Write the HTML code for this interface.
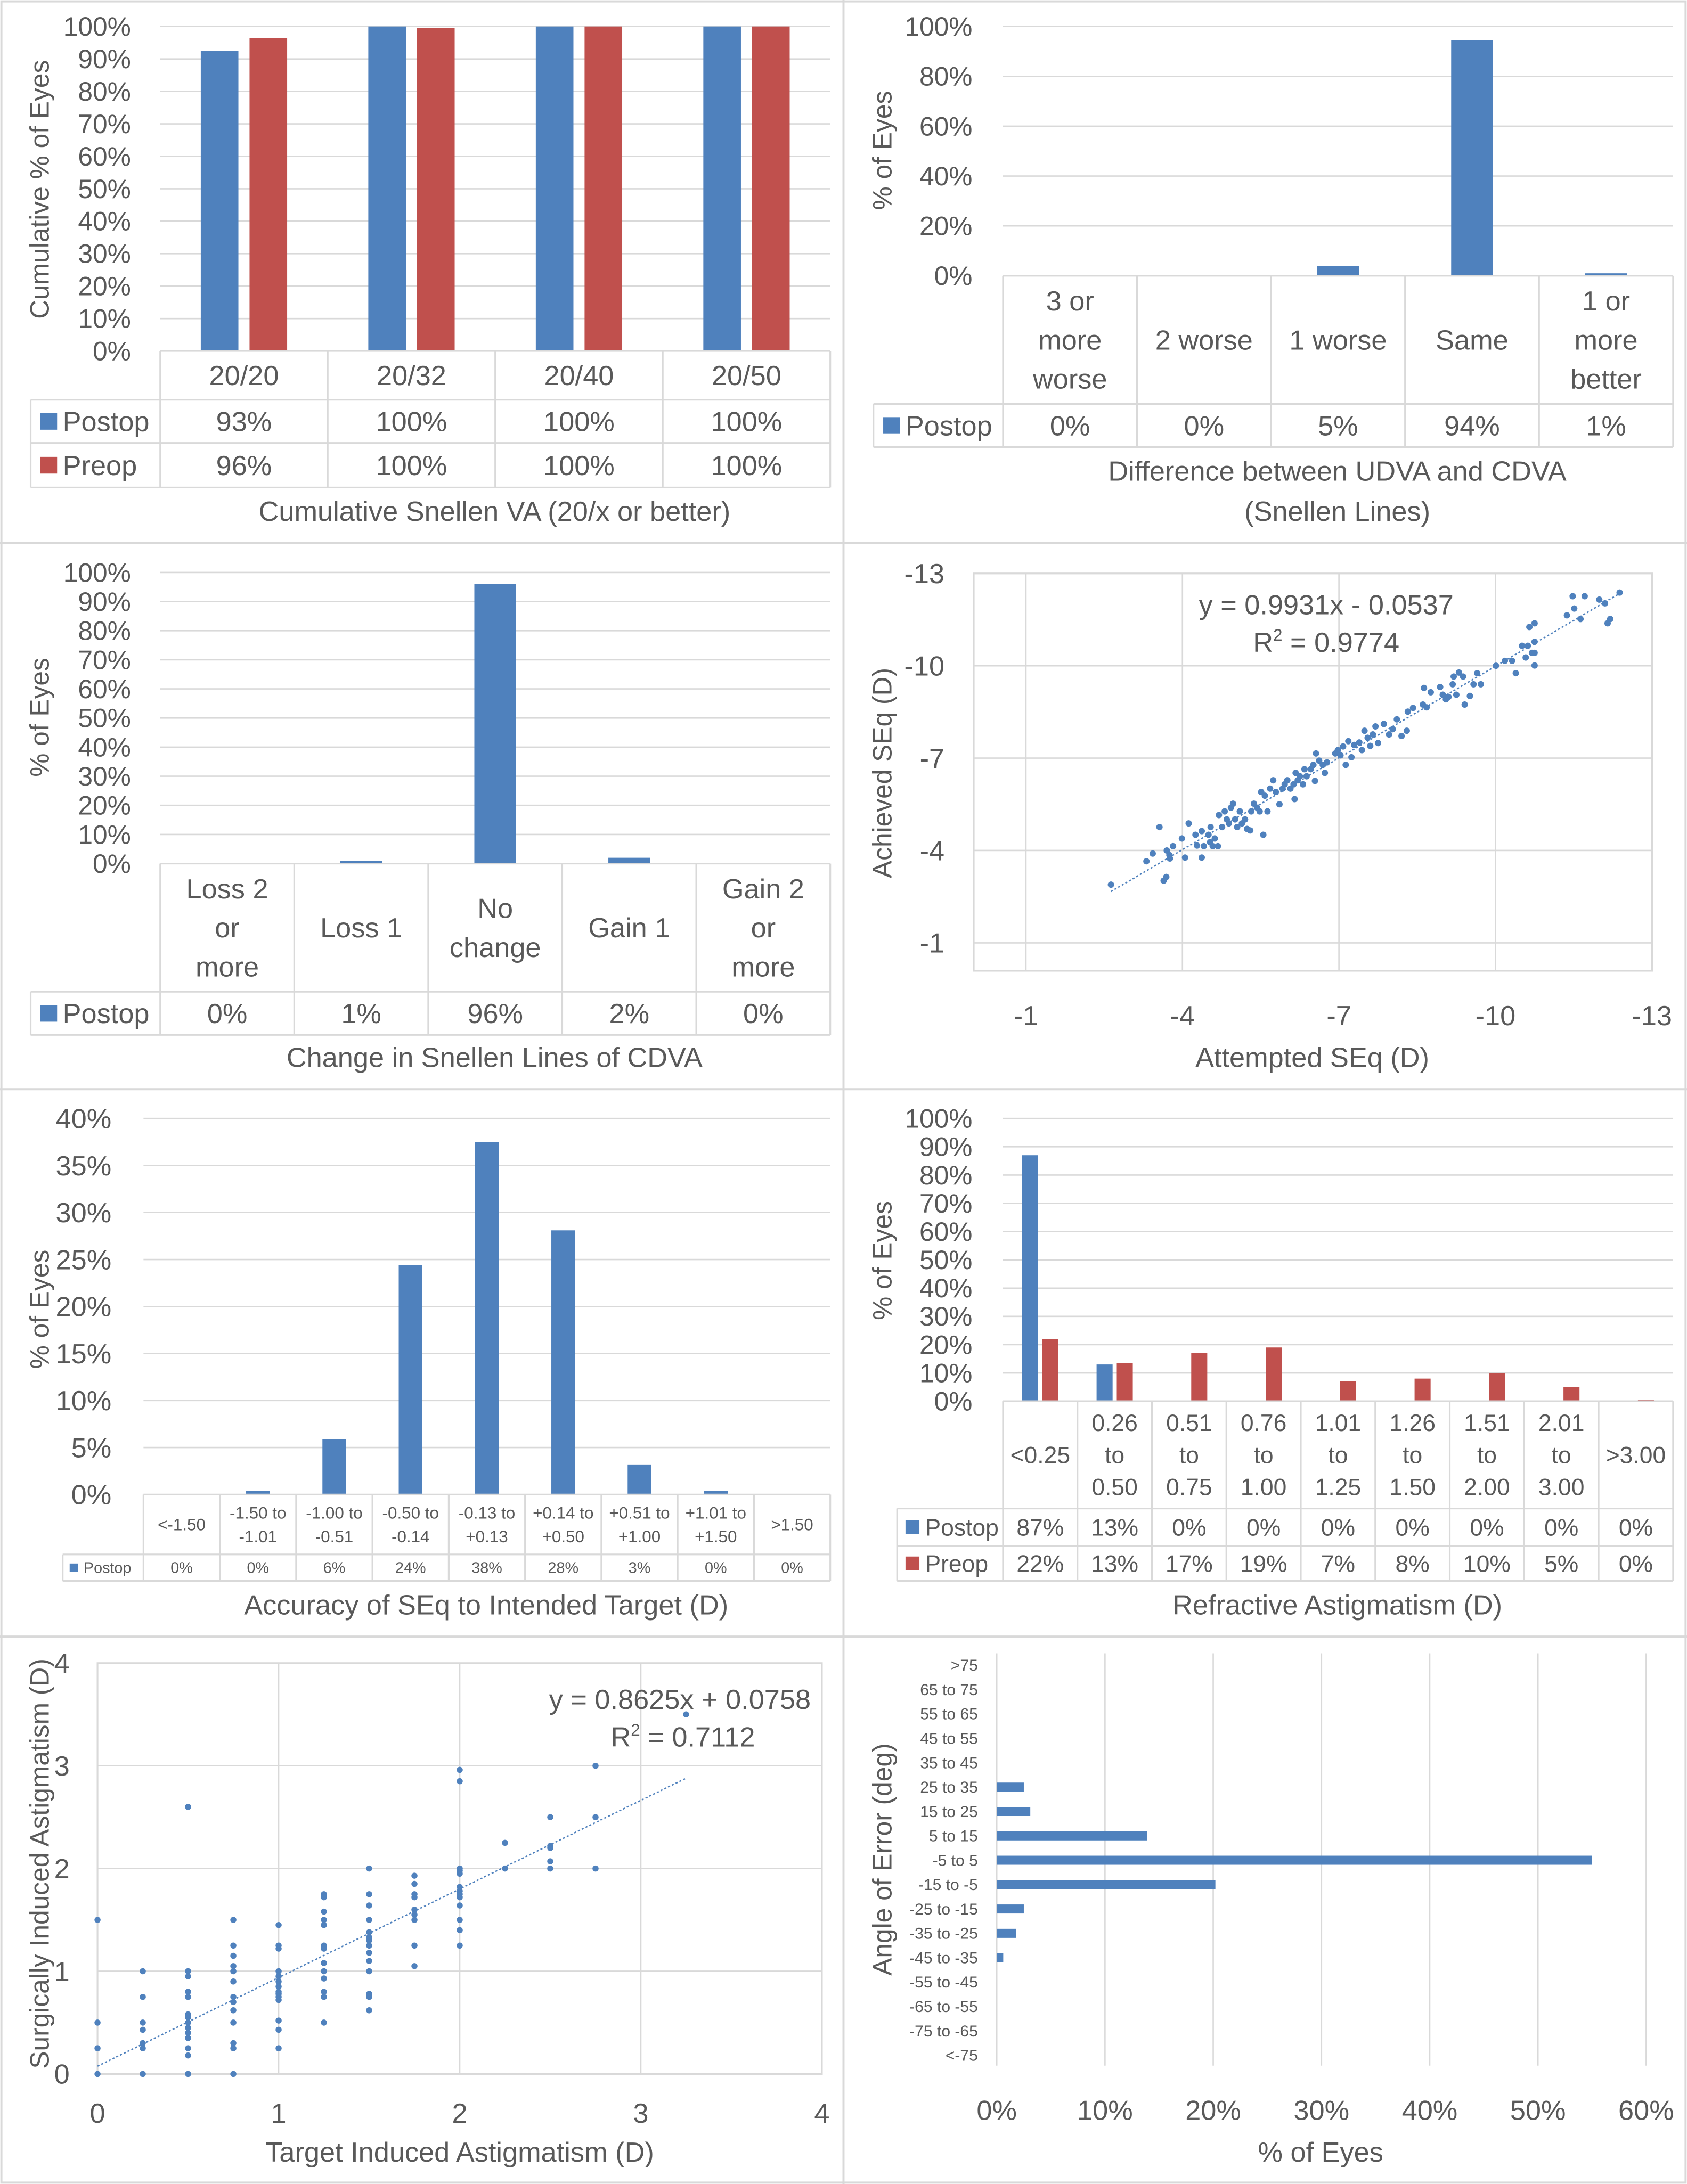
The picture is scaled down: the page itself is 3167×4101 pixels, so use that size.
<!DOCTYPE html>
<html><head><meta charset="utf-8"><style>
html,body{margin:0;padding:0;background:#fff;}
svg{display:block;font-family:"Liberation Sans",sans-serif;}
</style></head><body>
<svg id="root" width="3167" height="4101" viewBox="0 0 1211 1568" preserveAspectRatio="none" xmlns="http://www.w3.org/2000/svg">
<rect x="0" y="0" width="1211" height="1568" fill="#fff"/>
<g id="frames" stroke="#d9d9d9" stroke-width="1.5" fill="none">
<rect x="1" y="1" width="1209" height="1566"/>
<line x1="605.5" y1="0" x2="605.5" y2="1568"/>
<line x1="0" y1="390" x2="1211" y2="390"/>
<line x1="0" y1="782" x2="1211" y2="782"/>
<line x1="0" y1="1175" x2="1211" y2="1175"/>
</g>
</svg>
<script>
// ---------- data ----------
const p1Cats=[["20/20"],["20/32"],["20/40"],["20/50"]];
const p1Post=[92.5,100,100,100];
const p1Pre=[96.5,99.5,100,100];
const p1PostLbl=["93%","100%","100%","100%"];
const p1PreLbl=["96%","100%","100%","100%"];

const p2Cats=[["3 or","more","worse"],["2 worse"],["1 worse"],["Same"],["1 or","more","better"]];
const p2Post=[0,0,4,94.4,1];
const p2PostLbl=["0%","0%","5%","94%","1%"];

const p3Cats=[["Loss 2","or","more"],["Loss 1"],["No","change"],["Gain 1"],["Gain 2","or","more"]];
const p3Post=[0,1,96,2,0];
const p3PostLbl=["0%","1%","96%","2%","0%"];

const p5Cats=[["<-1.50"],["-1.50 to","-1.01"],["-1.00 to","-0.51"],["-0.50 to","-0.14"],["-0.13 to","+0.13"],["+0.14 to","+0.50"],["+0.51 to","+1.00"],["+1.01 to","+1.50"],[">1.50"]];
const p5Post=[0,0.4,5.9,24.4,37.5,28.1,3.2,0.4,0];
const p5PostLbl=["0%","0%","6%","24%","38%","28%","3%","0%","0%"];

const p6Cats=[["<0.25"],["0.26","to","0.50"],["0.51","to","0.75"],["0.76","to","1.00"],["1.01","to","1.25"],["1.26","to","1.50"],["1.51","to","2.00"],["2.01","to","3.00"],[">3.00"]];
const p6Post=[87,13,0,0,0,0,0,0,0];
const p6Pre=[22,13.5,17,19,7,8,10,5,0.5];
const p6PostLbl=["87%","13%","0%","0%","0%","0%","0%","0%","0%"];
const p6PreLbl=["22%","13%","17%","19%","7%","8%","10%","5%","0%"];

const p4Att=[-2.63,-3.31,-3.43,-3.56,-3.64,-3.69,-3.70,-3.75,-3.76,-3.82,-3.99,-4.05,-4.12,-4.25,-4.28,-4.37,-4.37,-4.41,-4.50,-4.53,-4.54,-4.58,-4.62,-4.68,-4.70,-4.76,-4.81,-4.85,-4.89,-4.93,-4.97,-5.01,-5.05,-5.10,-5.14,-5.20,-5.24,-5.30,-5.32,-5.37,-5.43,-5.48,-5.51,-5.55,-5.58,-5.63,-5.68,-5.74,-5.79,-5.86,-5.92,-5.96,-6.01,-6.07,-6.13,-6.15,-6.17,-6.21,-6.25,-6.31,-6.34,-6.38,-6.46,-6.51,-6.54,-6.56,-6.62,-6.69,-6.73,-6.77,-6.93,-6.98,-7.03,-7.08,-7.13,-7.18,-7.24,-7.29,-7.39,-7.44,-7.49,-7.55,-7.60,-7.65,-7.70,-7.75,-7.86,-7.96,-8.03,-8.11,-8.20,-8.30,-8.32,-8.42,-8.61,-8.63,-8.68,-8.76,-8.94,-8.99,-9.05,-9.10,-9.18,-9.20,-9.25,-9.30,-9.38,-9.41,-9.51,-9.58,-9.65,-9.72,-10.01,-10.18,-10.32,-10.39,-10.51,-10.58,-10.62,-10.65,-10.70,-10.75,-10.75,-10.75,-10.75,-11.37,-11.48,-11.51,-11.63,-11.71,-11.99,-12.10,-12.15,-12.20,-12.38];
const p4Ach=[-2.89,-3.65,-3.90,-4.76,-3.02,-3.14,-4.00,-3.85,-3.74,-4.14,-4.39,-3.77,-4.88,-4.51,-4.16,-4.63,-3.77,-4.14,-4.51,-4.27,-4.76,-4.14,-4.39,-4.14,-5.15,-4.76,-5.27,-5.01,-4.88,-5.39,-5.52,-5.01,-4.76,-5.27,-4.88,-5.01,-4.70,-4.65,-5.27,-5.52,-5.39,-5.27,-5.90,-4.51,-5.78,-5.27,-6.01,-6.28,-5.90,-5.50,-6.01,-6.15,-6.28,-6.01,-6.15,-5.67,-6.52,-6.28,-6.41,-6.15,-6.64,-6.41,-6.64,-6.78,-6.26,-7.15,-6.92,-6.78,-6.52,-6.86,-7.15,-7.26,-7.09,-7.38,-6.78,-7.55,-7.03,-7.43,-7.51,-7.26,-7.89,-7.66,-7.40,-7.77,-8.03,-7.49,-8.11,-7.77,-7.94,-8.26,-7.72,-7.89,-8.51,-8.63,-8.74,-9.28,-8.65,-9.14,-9.31,-9.06,-8.91,-8.99,-9.40,-9.65,-9.06,-9.78,-9.65,-8.74,-9.02,-9.40,-9.76,-9.40,-10.00,-10.16,-10.16,-9.76,-10.65,-10.27,-10.65,-11.26,-10.42,-11.38,-10.78,-10.01,-10.42,-11.64,-12.26,-11.86,-11.52,-12.26,-12.15,-12.03,-11.38,-11.52,-12.38];
const p4Ticks=[-1,-4,-7,-10,-13];

const p7X=[0,0,0,0, 0.25,0.25,0.25,0.25,0.25,0.25,0.25, 0.5,0.5,0.5,0.5,0.5,0.5,0.5,0.5,0.5,0.5,0.5,0.5,0.5,0.5, 0.75,0.75,0.75,0.75,0.75,0.75,0.75,0.75,0.75,0.75,0.75,0.75,0.75, 1,1,1,1,1,1,1,1,1,1,1,1,1,1, 1.25,1.25,1.25,1.25,1.25,1.25,1.25,1.25,1.25,1.25,1.25,1.25,1.25, 1.5,1.5,1.5,1.5,1.5,1.5,1.5,1.5,1.5,1.5,1.5,1.5,1.5,1.5, 1.75,1.75,1.75,1.75,1.75,1.75,1.75,1.75,1.75, 2,2,2,2,2,2,2,2,2,2,2,2,2, 2.25,2.25, 2.5,2.5,2.5,2.5,2.5, 2.75,2.75,2.75, 3.25];
const p7Y=[1.5,0.5,0.25,0, 1.0,0.75,0.5,0.43,0.3,0.25,0, 2.6,1.0,0.95,0.8,0.75,0.58,0.55,0.5,0.45,0.4,0.35,0.25,0.18,0, 1.5,1.25,1.15,1.05,1.0,0.9,0.75,0.7,0.62,0.5,0.3,0.25,0, 1.45,1.25,1.22,1.0,0.95,0.9,0.85,0.8,0.78,0.75,0.72,0.52,0.43,0.25, 1.75,1.72,1.58,1.5,1.45,1.25,1.22,1.08,1.0,0.93,0.8,0.75,0.5, 2.0,1.75,1.64,1.5,1.38,1.33,1.3,1.25,1.18,1.1,1.0,0.78,0.75,0.62, 1.93,1.85,1.75,1.72,1.6,1.55,1.5,1.25,1.05, 2.96,2.85,2.0,1.98,1.95,1.82,1.78,1.75,1.72,1.64,1.5,1.4,1.25, 2.25,2.0, 2.5,2.22,2.2,2.07,2.0, 3.0,2.5,2.0, 3.5];
const p7Ticks=[0,1,2,3,4];

const p8Cats=[">75","65 to 75","55 to 65","45 to 55","35 to 45","25 to 35","15 to 25","5 to 15","-5 to 5","-15 to -5","-25 to -15","-35 to -25","-45 to -35","-55 to -45","-65 to -55","-75 to -65","<-75"];
const p8Vals=[0,0,0,0,0,2.5,3.1,13.9,55.0,20.2,2.5,1.8,0.6,0,0,0,0];
const p8Ticks=[0,10,20,30,40,50,60];

// ---------- helpers ----------
const NS="http://www.w3.org/2000/svg";
const root=document.getElementById('root');
const BLUE="#4f81bd",RED="#c0504d",GRID="#d9d9d9",TXT="#595959";
function mk(tag,attrs,parent,text){const e=document.createElementNS(NS,tag);for(const k in attrs)e.setAttribute(k,attrs[k]);if(text!==undefined)e.textContent=text;(parent||root).appendChild(e);return e;}
function grp(name){const g=document.createElementNS(NS,'g');


root.appendChild(g);return g;}
function ytitle(g,txt,x,cy,fs){const t=mk('text',{x:x,y:cy,'font-size':fs||20,fill:TXT,'text-anchor':'middle',transform:`rotate(-90 ${x} ${cy})`},g,txt);

}
function xtitle(g,txt,cx,y,fs){const t=mk('text',{x:cx,y:y,'font-size':fs||20,fill:TXT,'text-anchor':'middle'},g,txt);

}

function barPanel(o){
 const g=grp(o.name);
 const ys=v=>o.yBot-(v/o.max)*(o.yBot-o.yTop);
 const n=o.cats.length, cw=(o.x1-o.x0)/n;
 for(let v=0;v<=o.max+1e-9;v+=o.step){
  const y=ys(v);
  mk('line',{x1:o.x0,x2:o.x1,y1:y,y2:y,stroke:GRID,'stroke-width':1},g);
  const t=mk('text',{x:o.tickX,y:y+o.tickFs*0.35,'font-size':o.tickFs,fill:TXT,'text-anchor':'end'},g,Math.round(v)+'%');
  
  
 }
 const ns=o.series.length;
 o.series.forEach((s,si)=>{
  s.vals.forEach((v,i)=>{
   const c=o.x0+cw*(i+0.5);
   let bx= ns===1? c-o.barW/2 : (si===0? c-o.gap/2-o.barW : c+o.gap/2);
   const r=mk('rect',{x:bx,y:ys(v),width:o.barW,height:o.yBot-ys(v),fill:s.color},g);
   
   
  });
 });
 const tb=o.rowBounds[o.rowBounds.length-1];
 mk('line',{x1:o.x0,x2:o.x1,y1:o.yBot,y2:o.yBot,stroke:GRID,'stroke-width':1.2},g);
 for(let i=0;i<=n;i++){const x=o.x0+cw*i;mk('line',{x1:x,x2:x,y1:o.yBot,y2:tb,stroke:GRID,'stroke-width':1.2},g);}
 mk('line',{x1:o.tableLeft,x2:o.tableLeft,y1:o.rowBounds[0],y2:tb,stroke:GRID,'stroke-width':1.2},g);
 o.rowBounds.forEach(y=>mk('line',{x1:o.tableLeft,x2:o.x1,y1:y,y2:y,stroke:GRID,'stroke-width':1.2},g));
 o.cats.forEach((lines,i)=>{
  const c=o.x0+cw*(i+0.5), mid=(o.yBot+o.rowBounds[0])/2;
  const y0=mid-(lines.length-1)*o.catLH/2;
  lines.forEach((ln,j)=>{const t=mk('text',{x:c,y:y0+j*o.catLH+o.catFs*0.35,'font-size':o.catFs,fill:TXT,'text-anchor':'middle'},g,ln);
   
   });
 });
 o.series.forEach((s,si)=>{
  const top=o.rowBounds[si],bot=o.rowBounds[si+1],mid=(top+bot)/2;
  const sq=mk('rect',{x:o.tableLeft+o.sqPad,y:mid-o.sq/2,width:o.sq,height:o.sq,fill:s.color},g);
  
  
  const t=mk('text',{x:o.tableLeft+o.sqPad+o.sq+4,y:mid+o.rowFs*0.35,'font-size':o.rowFs,fill:TXT},g,s.name);
  
  
  s.labels.forEach((lb,i)=>{const c=o.x0+cw*(i+0.5);
   const v=mk('text',{x:c,y:mid+o.rowFs*0.35,'font-size':o.rowFs,fill:TXT,'text-anchor':'middle'},g,lb);
   
   });
 });
 return g;
}

let g1=barPanel({name:'cumulative-va-chart',x0:115,x1:596,yTop:19,yBot:252,max:100,step:10,tickX:94,tickFs:19,
 cats:p1Cats,catFs:20,catLH:28,barW:27,gap:8,
 series:[{name:'Postop',color:BLUE,vals:p1Post,labels:p1PostLbl},{name:'Preop',color:RED,vals:p1Pre,labels:p1PreLbl}],
 rowBounds:[287,318,350],tableLeft:22,rowFs:20,sq:12,sqPad:7});
ytitle(g1,'Cumulative % of Eyes',35,136,19);
xtitle(g1,'Cumulative Snellen VA (20/x or better)',355,374);

let g2=barPanel({name:'udva-cdva-difference-chart',x0:720,x1:1201,yTop:19,yBot:198,max:100,step:20,tickX:698,tickFs:19,
 cats:p2Cats,catFs:20,catLH:28,barW:30,gap:0,
 series:[{name:'Postop',color:BLUE,vals:p2Post,labels:p2PostLbl}],
 rowBounds:[290,321],tableLeft:627,rowFs:20,sq:12,sqPad:7});
ytitle(g2,'% of Eyes',640,108,19);
xtitle(g2,'Difference between UDVA and CDVA',960,345);
xtitle(g2,'(Snellen Lines)',960,374);

let g3=barPanel({name:'cdva-change-chart',x0:115,x1:596,yTop:411,yBot:620,max:100,step:10,tickX:94,tickFs:19,
 cats:p3Cats,catFs:20,catLH:28,barW:30,gap:0,
 series:[{name:'Postop',color:BLUE,vals:p3Post,labels:p3PostLbl}],
 rowBounds:[712,743],tableLeft:22,rowFs:20,sq:12,sqPad:7});
ytitle(g3,'% of Eyes',35,515,19);
xtitle(g3,'Change in Snellen Lines of CDVA',355,766);

let g5=barPanel({name:'seq-accuracy-chart',x0:103,x1:596,yTop:803,yBot:1073,max:40,step:5,tickX:80,tickFs:20,
 cats:p5Cats,catFs:12,catLH:17,barW:17,gap:0,
 series:[{name:'Postop',color:BLUE,vals:p5Post,labels:p5PostLbl}],
 rowBounds:[1116,1135],tableLeft:45,rowFs:11,sq:6,sqPad:5});
ytitle(g5,'% of Eyes',35,940,19);
xtitle(g5,'Accuracy of SEq to Intended Target (D)',349,1159);

let g6=barPanel({name:'refractive-astigmatism-chart',x0:720,x1:1201,yTop:803,yBot:1006,max:100,step:10,tickX:698,tickFs:19,
 cats:p6Cats,catFs:17,catLH:23,barW:11.5,gap:3,
 series:[{name:'Postop',color:BLUE,vals:p6Post,labels:p6PostLbl},{name:'Preop',color:RED,vals:p6Pre,labels:p6PreLbl}],
 rowBounds:[1083,1110,1135],tableLeft:644,rowFs:17,sq:10,sqPad:6});
ytitle(g6,'% of Eyes',640,905,19);
xtitle(g6,'Refractive Astigmatism (D)',960,1159);

(function(){
 const g=grp('seq-scatter-chart');
 const xs=v=>699+(-v)*37.45, ys=v=>699-(-v)*22.1;
 mk('rect',{x:699,y:ys(-13),width:487,height:699-ys(-13)-2,fill:'none',stroke:GRID,'stroke-width':1.2},g);
 p4Ticks.forEach(t=>{
  mk('line',{x1:xs(t),x2:xs(t),y1:ys(-13),y2:697,stroke:GRID,'stroke-width':1},g);
  mk('line',{x1:699,x2:1186,y1:ys(t),y2:ys(t),stroke:GRID,'stroke-width':1},g);
  const a=mk('text',{x:xs(t),y:736,'font-size':20,fill:TXT,'text-anchor':'middle'},g,String(t));
  
  
  const b=mk('text',{x:678,y:ys(t)+7,'font-size':20,fill:TXT,'text-anchor':'end'},g,String(t));
  
  
 });
 const x1=Math.max(...p4Att),x2=Math.min(...p4Att);
 const tl=mk('line',{x1:xs(x1),y1:ys(0.9931*x1-0.0537),x2:xs(x2),y2:ys(0.9931*x2-0.0537),stroke:BLUE,'stroke-width':1,'stroke-dasharray':'1.5 1.5'},g);
 
 
 p4Att.forEach((v,i)=>{const c=mk('circle',{cx:xs(v),cy:ys(p4Ach[i]),r:2.3,fill:BLUE},g);
  
  });
 const e1=mk('text',{x:952,y:441,'font-size':20,fill:TXT,'text-anchor':'middle'},g,'y = 0.9931x - 0.0537');
 
 
 const e2=mk('text',{x:952,y:468,'font-size':20,fill:TXT,'text-anchor':'middle'},g);
 e2.innerHTML='R<tspan font-size="12" dy="-8">2</tspan><tspan dy="8"> = 0.9774</tspan>';
 
 
 ytitle(g,'Achieved SEq (D)',640,555,19);
 xtitle(g,'Attempted SEq (D)',942,766);
})();

(function(){
 const g=grp('sia-scatter-chart');
 const xs=v=>70+v*130, ys=v=>1489-v*73.75;
 mk('rect',{x:70,y:ys(4),width:520,height:1489-ys(4),fill:'none',stroke:GRID,'stroke-width':1.2},g);
 p7Ticks.forEach(t=>{
  mk('line',{x1:xs(t),x2:xs(t),y1:ys(4),y2:1489,stroke:GRID,'stroke-width':1},g);
  mk('line',{x1:70,x2:590,y1:ys(t),y2:ys(t),stroke:GRID,'stroke-width':1},g);
  const a=mk('text',{x:xs(t),y:1524,'font-size':20,fill:TXT,'text-anchor':'middle'},g,String(t));
  
  
  const b=mk('text',{x:50,y:ys(t)+7,'font-size':20,fill:TXT,'text-anchor':'end'},g,String(t));
  
  
 });
 const tl=mk('line',{x1:xs(0),y1:ys(0.0758),x2:xs(3.25),y2:ys(0.8625*3.25+0.0758),stroke:BLUE,'stroke-width':1,'stroke-dasharray':'1.5 1.5'},g);
 
 
 p7X.forEach((v,i)=>{const c=mk('circle',{cx:xs(v),cy:ys(p7Y[i]),r:2.2,fill:BLUE},g);
  
  });
 const e1=mk('text',{x:582,y:1227,'font-size':20,fill:TXT,'text-anchor':'end'},g,'y = 0.8625x + 0.0758');
 
 
 const e2=mk('text',{x:542,y:1254,'font-size':20,fill:TXT,'text-anchor':'end'},g);
 e2.innerHTML='R<tspan font-size="12" dy="-8">2</tspan><tspan dy="8"> = 0.7112</tspan>';
 
 
 ytitle(g,'Surgically Induced Astigmatism (D)',35,1338,19);
 xtitle(g,'Target Induced Astigmatism (D)',330,1552);
})();

(function(){
 const g=grp('angle-of-error-chart');
 const xs=v=>715.5+v*7.77;
 const yc=i=>1195.5+i*17.5;
 p8Ticks.forEach(t=>{
  mk('line',{x1:xs(t),x2:xs(t),y1:1187,y2:1483,stroke:GRID,'stroke-width':1},g);
  const a=mk('text',{x:xs(t),y:1522,'font-size':20,fill:TXT,'text-anchor':'middle'},g,t+'%');
  
  
 });
 p8Cats.forEach((c,i)=>{
  const t=mk('text',{x:702,y:yc(i)+4,'font-size':11.5,fill:TXT,'text-anchor':'end'},g,c);
  
  
  const v=p8Vals[i];
  if(v>0){const r=mk('rect',{x:xs(0),y:yc(i)-3.2,width:xs(v)-xs(0),height:6.5,fill:BLUE},g);
   
   }
 });
 ytitle(g,'Angle of Error (deg)',640,1335,19);
 xtitle(g,'% of Eyes',948,1552);
})();
</script>
</body></html>
